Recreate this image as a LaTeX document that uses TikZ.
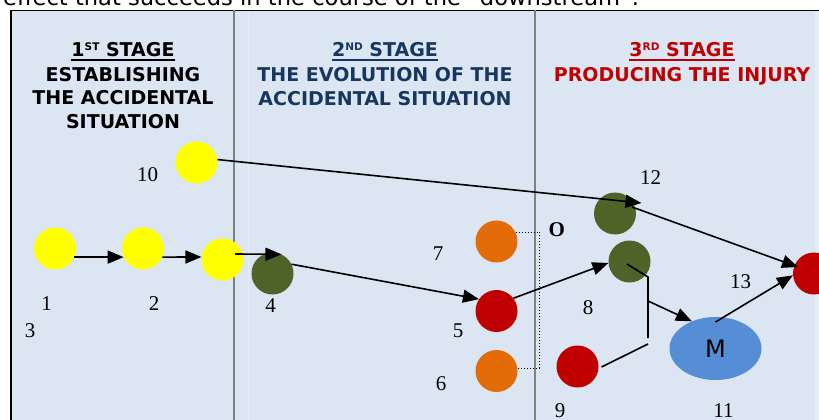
\documentclass[tikz,border=0pt]{standalone}
\usepackage{fontspec}
\setmainfont{Liberation Serif}
\newfontfamily\vsans{DejaVu Sans}
\usetikzlibrary{arrows.meta,shapes.geometric}

\definecolor{panel}{HTML}{DCE6F2}
\definecolor{panellight}{HTML}{E4ECF6}
\definecolor{sepline}{HTML}{808080}
\definecolor{yel}{HTML}{FFFF00}
\definecolor{olive}{HTML}{4F6228}
\definecolor{orng}{HTML}{E36C09}
\definecolor{crimson}{HTML}{C00000}
\definecolor{mblue}{HTML}{558ED5}
\definecolor{navy}{HTML}{17375E}

\newcommand\supx[1]{\raisebox{6pt}{\fontsize{10.5}{10.5}\selectfont #1}}

\begin{document}
\begin{tikzpicture}[x=1pt,y=-1pt,
  dot/.style={circle,minimum size=42pt,inner sep=0pt,fill=#1},
  num/.style={anchor=base,inner sep=0pt,font=\fontsize{21}{21}\selectfont},
  head/.style={anchor=base,inner sep=0pt,font=\vsans\bfseries\fontsize{19}{19}\selectfont},
  link/.style={line width=1.6pt,-{Triangle[length=16pt,width=13pt]}},
  wire/.style={line width=1.6pt},
]
\useasboundingbox (0,0) rectangle (819,420);
\clip (0,0) rectangle (819,420);

% panel and frame
\fill[panel] (10,10) rectangle (830,430);
\fill[panellight] (815,10) rectangle (830,430);
\draw[panellight,line width=1pt] (248,10) -- (248,430);
\draw[line width=1pt] (10,10.3) -- (830,10.3);
\draw[line width=2.2pt] (10.6,10) -- (10.6,430);
\draw[sepline,line width=1.5pt] (234,10) -- (234,430);
\draw[sepline,line width=1.5pt] (535,10) -- (535,430);

% sentence running above the frame
\node[anchor=base west,inner sep=0pt,font=\vsans\fontsize{22.6}{22.6}\selectfont] (cap) at (3,5.5)
  {effect that succeeds in the course of the “downstream”.};

% stage headings
\node[head] (h1) at (123,57) {1\supx{ST} STAGE};
\node[head] (h1b) at (123,81.7) {ESTABLISHING};
\node[head] (h1c) at (123,104.5) {THE ACCIDENTAL};
\node[head] (h1d) at (123,128) {SITUATION};
\draw[line width=1.6pt] ([yshift=-3pt]h1.base west) -- ([yshift=-3pt]h1.base east);

\node[head,text=navy] (h2) at (385,57) {2\supx{ND} STAGE};
\node[head,text=navy] (h2b) at (385,81.7) {THE EVOLUTION OF THE};
\node[head,text=navy] (h2c) at (385,105.5) {ACCIDENTAL SITUATION};
\draw[navy,line width=1.6pt] ([yshift=-3pt]h2.base west) -- ([yshift=-3pt]h2.base east);

\node[head,text=crimson] (h3) at (682,57) {3\supx{RD} STAGE};
\node[head,text=crimson] (h3b) at (682,81.7) {PRODUCING THE INJURY};
\draw[crimson,line width=1.6pt] ([yshift=-3pt]h3.base west) -- ([yshift=-3pt]h3.base east);

% events
\node[dot=yel] (n1) at (55,248.5) {};
\node[dot=yel] (n2) at (143,248.5) {};
\node[dot=yel] (n3) at (222.5,259.5) {};
\node[dot=yel] (n10) at (196.5,162.5) {};
\node[dot=olive] (n4) at (272.5,273.5) {};
\node[dot=orng] (n7) at (496.5,241.5) {};
\node[dot=crimson] (n5) at (496.5,311) {};
\node[dot=orng] (n6) at (496.5,371) {};
\node[dot=olive] (n12) at (615,213.5) {};
\node[dot=olive] (n8) at (629.5,261.5) {};
\node[dot=crimson] (n9) at (577.5,366.5) {};
\node[dot=crimson] (n13) at (814,273.5) {};
\node[ellipse,minimum width=92pt,minimum height=63pt,inner sep=0pt,fill=mblue,
      font=\vsans\fontsize{24}{24}\selectfont] (nM) at (715.5,348.5) {M};

% event numbers
\node[num] (l10) at (147.5,181.7) {10};
\node[num] (l1) at (46.5,310.7) {1};
\node[num] (l2) at (154,310.7) {2};
\node[num] (l3) at (30,337) {3};
\node[num] (l4) at (270.5,312) {4};
\node[num] (l7) at (438,260) {7};
\node[num] (l5) at (458,337.7) {5};
\node[num] (l6) at (441,390) {6};
\node[num,font=\bfseries\fontsize{21}{21}\selectfont] (lO) at (556.7,236.7) {O};
\node[num] (l8) at (588,314) {8};
\node[num] (l9) at (560,417.5) {9};
\node[num] (l11) at (723.5,417.5) {11};
\node[num] (l12) at (650.5,184) {12};
\node[num] (l13) at (740.5,288) {13};

% chain of the first stage
\draw[link] (n1.-24) -- (n2.-156);
\draw[link] (n2.-24) -- (n3.173);
\draw[link] ([shift={(12.5,-5.5)}]n3.center) -- (n4.65);
\draw[link] (n4.26) -- (n5.146);
\draw[link] (n5.37) -- (n8.184);

% long path from 10 through 12 to 13
\coordinate (t12) at ([shift={(26.5,-10.5)}]n12.center);
\draw[link] (n10.8) -- (t12);
\draw[link] ([shift={(17,-6.5)}]n12.center) -- ([shift={(-16,-6.5)}]n13.center);

% junction of 8 and 9 feeding M
\coordinate (j1) at ([shift={(18.5,15.5)}]n8.center);
\coordinate (j2) at ([shift={(0,61)}]j1);
\coordinate (j3) at ([shift={(0,67)}]j1);
\draw[wire] ([shift={(-2.5,2.5)}]n8.center) -- (j1) -- (j2);
\draw[wire] ([shift={(24,0.5)}]n9.center) -- (j3);
\draw[link] ([shift={(0,24)}]j1) -- (nM.131);
\draw[link] ([shift={(0,-26.5)}]nM.center) -- (n13.185);

% dotted bracket joining 7 and 6
\draw[dotted,line width=1pt] (n7.26) -- ++(24,0) |- (n6.8);
\end{tikzpicture}
\end{document}
